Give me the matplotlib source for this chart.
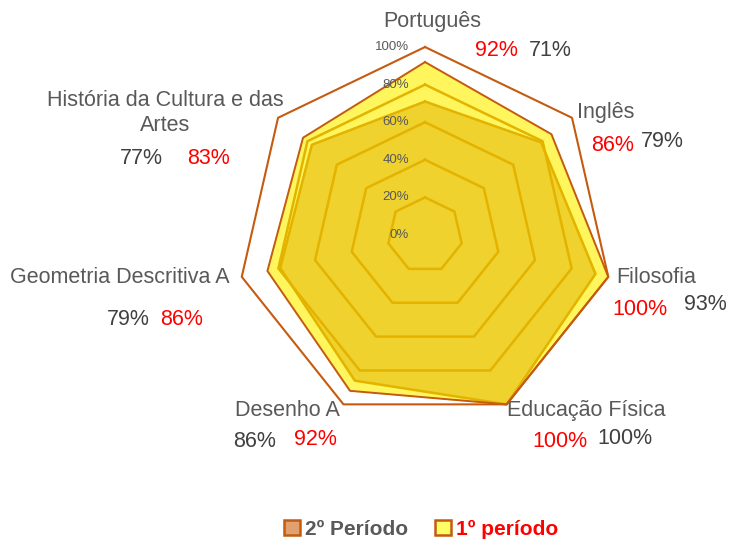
import numpy as np
import matplotlib.pyplot as plt
from matplotlib.patches import Patch

plt.rcParams['font.family'] = ['Liberation Sans', 'DejaVu Sans']

disciplinas = ['Português', 'Inglês', 'Filosofia', 'Educação Física',
               'Desenho A', 'Geometria Descritiva A',
               'História da Cultura e das\nArtes']
periodo1 = [92, 86, 100, 100, 92, 86, 83]
periodo2 = [71, 79, 93, 100, 86, 79, 77]
niveis = [0, 20, 40, 60, 80, 100]

n = len(disciplinas)
ang = np.pi / 2 - np.arange(n) * 2 * np.pi / n


def xy(vals):
    v = np.array(vals, dtype=float) / 100.0
    x = v * np.cos(ang)
    y = v * np.sin(ang)
    return np.append(x, x[0]), np.append(y, y[0])


fig = plt.figure(figsize=(7.29, 5.42), dpi=100)
ax = fig.add_axes([0, 0, 1, 1])
ax.set_xlim(-2.261, 1.617)
ax.set_ylim(-1.633, 1.25)
ax.set_aspect('equal')
ax.axis('off')

# series
x1, y1 = xy(periodo1)
ax.fill(x1, y1, color='#FFF55C', zorder=1)
ax.plot(x1, y1, color='#C55A11', lw=1.4, zorder=4)
x2, y2 = xy(periodo2)
ax.fill(x2, y2, color='#EFD22E', zorder=2)
ax.plot(x2, y2, color='#E3B300', lw=1.8, zorder=3)

# grid
for lv in niveis[1:]:
    gx, gy = xy([lv] * n)
    if lv == 100:
        ax.plot(gx, gy, color='#C55A11', lw=1.5, zorder=5)
    else:
        ax.plot(gx, gy, color='#E3B300', lw=1.8, zorder=3)
for lv in niveis:
    ax.text(-0.085, lv / 100.0, f'{lv}%', ha='right', va='center',
            fontsize=9.5, color='#595959', zorder=6)

# category labels (pixel offsets from centre 425,235; 188 px = 100%)
lab_pos = [(7, 214), (181, 123), (231, -43), (161, -176),
           (-138, -176), (-305, -43), (-260, 122)]
val_pos = [((71, 185), (125, 185)), ((188, 90), (237, 94)),
           ((215, -75), (280, -70)), ((135, -207), (200, -204)),
           ((-110, -205), (-170, -207)), ((-243, -85), (-297, -85)),
           ((-217, 77), (-284, 77))]
s = 188.0
for i, nome in enumerate(disciplinas):
    lx, ly = lab_pos[i]
    ax.text(lx / s, ly / s, nome, ha='center', va='center', fontsize=15.5,
            color='#595959', linespacing=1.3)
    (rx, ry), (bx, by) = val_pos[i]
    ax.text(rx / s, ry / s, f'{periodo1[i]}%', ha='center', va='center',
            fontsize=15.5, color='#FF0000')
    ax.text(bx / s, by / s, f'{periodo2[i]}%', ha='center', va='center',
            fontsize=15.5, color='#404040')

handles = [Patch(facecolor='#E0A070', edgecolor='#C55A11', lw=1.8),
           Patch(facecolor='#FFFF66', edgecolor='#C55A11', lw=1.8)]
leg = fig.legend(handles, ['2º Período', '1º período'], loc='center',
                 bbox_to_anchor=(0.578, 0.024), ncol=2, frameon=False,
                 prop={'weight': 'bold', 'size': 15}, handlelength=0.75,
                 handleheight=0.75, handletextpad=0.25, columnspacing=1.3)
leg.get_texts()[0].set_color('#595959')
leg.get_texts()[1].set_color('#FF0000')

fig.savefig('out.png', dpi=100)
